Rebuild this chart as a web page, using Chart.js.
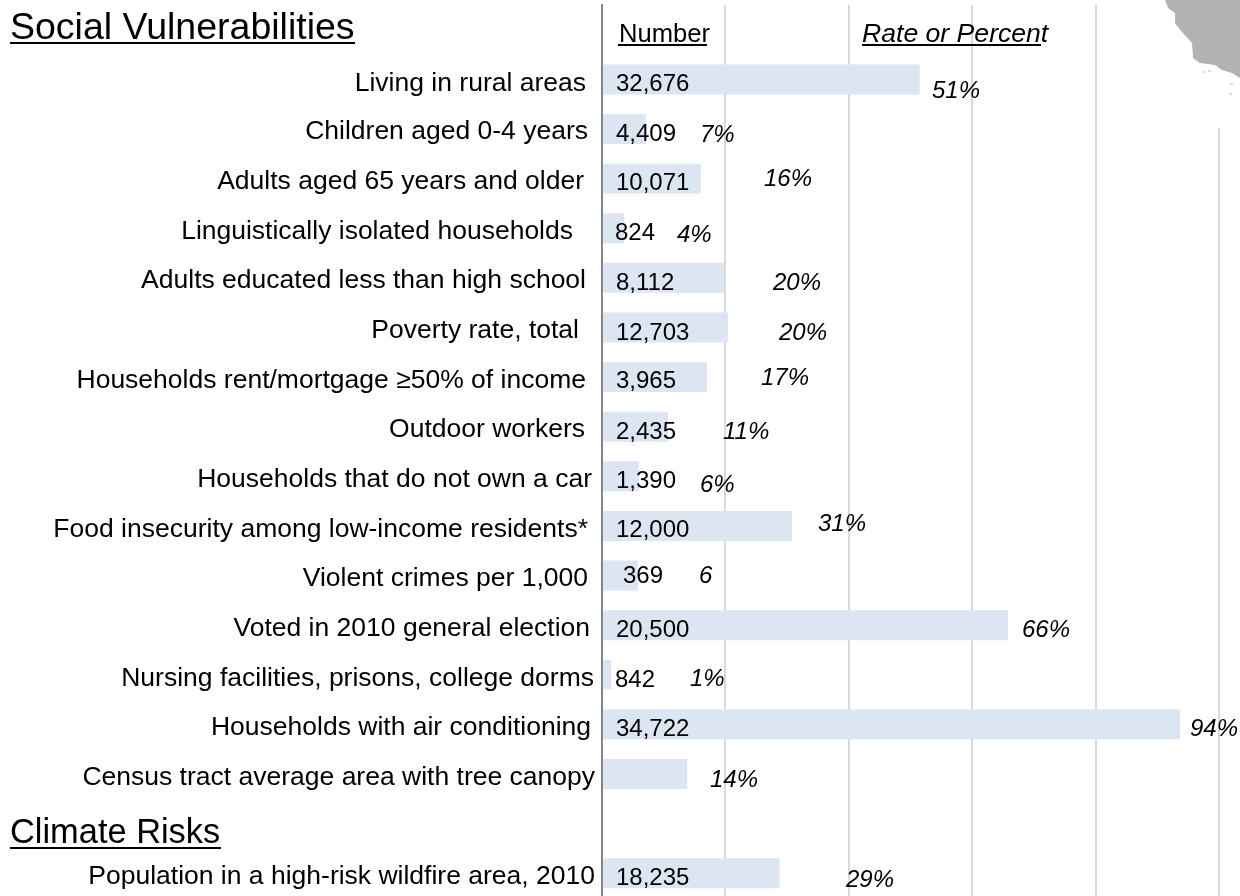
<!DOCTYPE html>
<html><head><meta charset="utf-8">
<style>html,body{margin:0;padding:0;background:#fff;overflow:hidden;width:1240px;height:896px}canvas{display:block}</style>
<script src="https://cdn.jsdelivr.net/npm/chart.js@4"></script></head>
<body><canvas id="c" width="1240" height="898"></canvas>
<script>
const categories = ["", "Living in rural areas", "Children aged 0-4 years", "Adults aged 65 years and older",
  "Linguistically isolated households", "Adults educated less than high school", "Poverty rate, total",
  "Households rent/mortgage ≥50% of income", "Outdoor workers", "Households that do not own a car",
  "Food insecurity among low-income residents*", "Violent crimes per 1,000", "Voted in 2010 general election",
  "Nursing facilities, prisons, college dorms", "Households with air conditioning",
  "Census tract average area with tree canopy", "", "Population in a high-risk wildfire area, 2010"];
const barValues = [null, 51.5, 7.1, 16, 3.6, 19.8, 20.4, 17, 10.7, 6, 30.8, 5.8, 65.8, 1.5, 93.7, 13.8, null, 28.8];
const numberLabels = ["", "32,676", "4,409", "10,071", "824", "8,112", "12,703", "3,965", "2,435", "1,390", "12,000", "369", "20,500", "842", "34,722", "", "", "18,235"];
const rateLabels = ["", "51%", "7%", "16%", "4%", "20%", "20%", "17%", "11%", "6%", "31%", "6", "66%", "1%", "94%", "14%", "", "29%"];
const headings = ["Social Vulnerabilities", "Climate Risks"];
const columnHeads = ["Number", "Rate or Percent"];

// layout nudges (pixels), separate from the data
const catDx = [0,-10,-8,-12,-23,-10,-17,-10,-11,-4,-8,-8,-6,-2,-5,-1,0,-1];
const catDy = [0,4.6,3,3.4,3.8,3.2,3.6,4,3.4,3.8,4.2,3.6,4,4.4,3.8,4.2,0,3];
const numX  = [0,616,616,616,615,616,616,616,616,616,616,623,616,615,616,0,0,616];
const numDy = [0,4.6,5,4.4,4.8,5.2,5.6,4,6,5,4.2,0.6,5,5.4,4.8,0,0,5];
const rateX = [0,932,700,764,677,773,779,761,723,700,818,699,1022,690,1190,710,0,846];
const rateDy= [0,11.6,6,0.4,6.8,5.2,5.6,1,6,8.8,-1.8,0.6,5,4.4,4.8,6.2,0,7];

const FONT = '"Liberation Sans", Arial, sans-serif';

const overlay = {
  id: 'overlay',
  afterUpdate(chart) {
    const s = chart.scales.y;
    s.getLabelItems(chart.chartArea).forEach((it, i) => {
      it.options.translation[0] += catDx[i];
      it.options.translation[1] += catDy[i];
    });
  },
  afterDraw(chart) {
    const ctx = chart.ctx, y = chart.scales.y;
    ctx.save();
    // California map fragment (decorative inset)
    ctx.fillStyle = '#fff';
    ctx.fillRect(1150, 0, 90, 128);
    ctx.fillStyle = '#b3b3b3';
    ctx.beginPath();
    [[1165,0],[1168,8],[1175,13],[1175,23],[1182,32],[1192,43],[1193,58],[1200,63],[1215,65],[1222,70],[1232,73],[1240,78],[1240,0]]
      .forEach((p,i)=> i ? ctx.lineTo(p[0],p[1]) : ctx.moveTo(p[0],p[1]));
    ctx.closePath(); ctx.fill();
    ctx.fillStyle = '#dcdcdc';
    [[1202,71],[1208,70],[1230,83],[1229,93]].forEach(p=>ctx.fillRect(p[0],p[1],3,2));

    ctx.textBaseline = 'middle'; ctx.textAlign = 'left'; ctx.fillStyle = '#000';
    // value and rate labels
    categories.forEach((c, i) => {
      const py = y.getPixelForValue(i);
      if (numberLabels[i]) { ctx.font = '24px ' + FONT; ctx.fillText(numberLabels[i], numX[i], py + numDy[i]); }
      if (rateLabels[i]) { ctx.font = 'italic 24px ' + FONT; ctx.fillText(rateLabels[i], rateX[i], py + rateDy[i]); }
    });
    // headings
    ctx.textBaseline = 'alphabetic';
    const line = (a, b, yy, w) => { ctx.fillRect(a, yy, b - a, w); };
    ctx.font = '37.5px ' + FONT;
    ctx.fillText(headings[0], 10, 39); line(10, 355, 42, 2);
    ctx.font = '34.4px ' + FONT;
    ctx.fillText(headings[1], 10, 843); line(10, 221, 847, 2);
    ctx.font = '25.6px ' + FONT;
    ctx.fillText(columnHeads[0], 619, 42); line(618, 707, 44, 2);
    ctx.font = 'italic 26.6px ' + FONT;
    ctx.fillText(columnHeads[1], 862, 42); line(862, 1041, 44, 2);
    ctx.restore();
  }
};

new Chart(document.getElementById('c'), {
  type: 'bar',
  data: { labels: categories, datasets: [{ data: barValues, backgroundColor: '#dce6f2', barPercentage: 0.605, categoryPercentage: 1 }] },
  plugins: [overlay],
  options: {
    indexAxis: 'y', responsive: false, animation: false,
    layout: { autoPadding: false, padding: { top: 5, right: 21, bottom: 0, left: 0 } },
    plugins: { legend: { display: false }, tooltip: { enabled: false } },
    scales: {
      x: { min: 0, max: 100, afterFit(s) { s.height = 0; }, ticks: { display: false, stepSize: 20 },
           grid: { color: '#d9d9d9', lineWidth: 2, drawTicks: false }, border: { display: false } },
      y: { afterFit(s) { s.width = 602; s.paddingTop = 0; s.paddingBottom = 0; },
           ticks: { autoSkip: false, padding: 6, color: '#000', font: { family: FONT, size: 26.5 } },
           grid: { display: false, drawTicks: false }, border: { display: true, color: '#868686', width: 2 } }
    }
  }
});
</script></body></html>
